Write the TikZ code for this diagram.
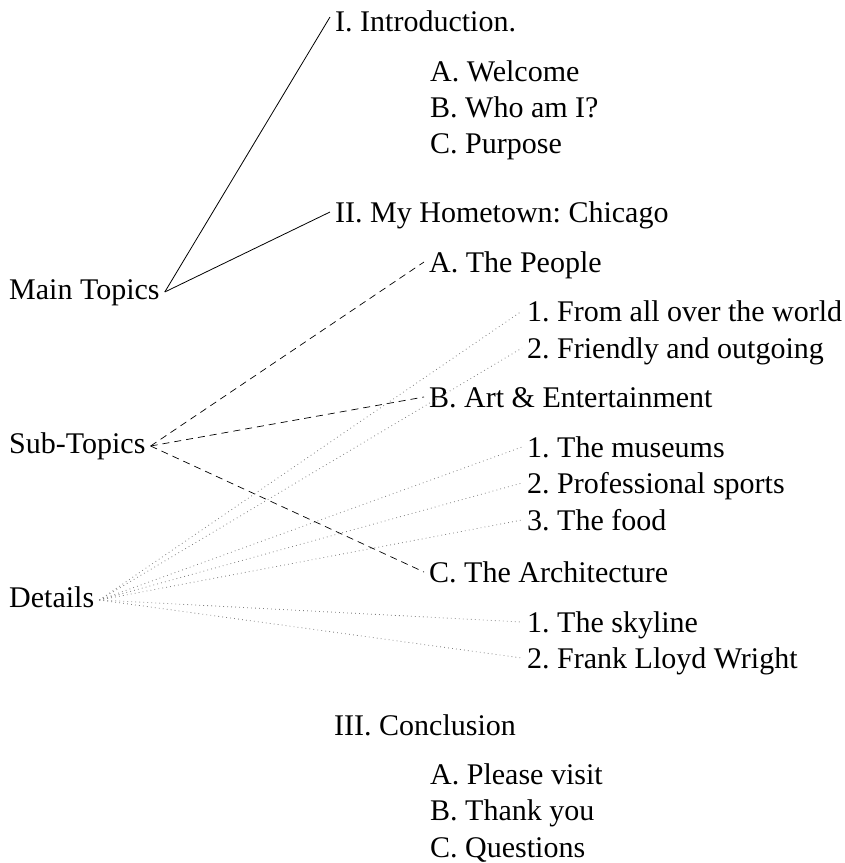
\documentclass[tikz,border=0pt]{standalone}
\usepackage{fontspec}
\setmainfont{Liberation Serif}
\frenchspacing
\tikzset{topic/.style = {font=\fontsize{30}{32}\selectfont, inner sep=5pt,
                         text height=20pt, text depth=6pt, anchor=base west}}
\tikzset{item/.style = {font=\fontsize{30}{32}\selectfont, inner sep=5pt,
                        text height=20pt, text depth=0pt, anchor=base west}}
\tikzset{mainline/.style = {line width=0.8pt}}
\tikzset{subline/.style = {line width=0.7pt, dash pattern=on 7pt off 5pt}}
\tikzset{detailline/.style = {line width=0.8pt, gray, dash pattern=on 0.8pt off 3.2pt}}

\begin{document}
\begin{tikzpicture}[x=1pt, y=-1pt]
      \useasboundingbox (0, 0) rectangle (845, 863);
      % left column
      \node [topic] (main) at (4, 299) {Main Topics};
      \node [topic] (sub) at (4, 453) {Sub-Topics};
      \node [topic] (details) at (4, 607) {Details};
      % outline
      \node [item] (intro) at (330, 31) {I. Introduction.};
      \node [item] (welcome) at (425, 81) {A. Welcome};
      \node [item] (who) at (425, 117) {B. Who am I?};
      \node [item] (purpose) at (425, 153) {C. Purpose};
      \node [item] (hometown) at (330, 222) {II. My Hometown: Chicago};
      \node [item] (people) at (424, 272) {A. The People};
      \node [item] (world) at (522, 321) {1. From all over the world};
      \node [item] (friendly) at (522, 358) {2. Friendly and outgoing};
      \node [item] (art) at (424, 407) {B. Art \& Entertainment};
      \node [item] (museums) at (522, 457) {1. The museums};
      \node [item] (sports) at (522, 493) {2. Professional sports};
      \node [item] (food) at (522, 530) {3. The food};
      \node [item] (arch) at (424, 582) {C. The Architecture};
      \node [item] (skyline) at (522, 632) {1. The skyline};
      \node [item] (wright) at (522, 668) {2. Frank Lloyd Wright};
      \node [item] (concl) at (329, 735) {III. Conclusion};
      \node [item] (visit) at (425, 784) {A. Please visit};
      \node [item] (thanks) at (425, 820) {B. Thank you};
      \node [item] (questions) at (425, 857) {C. Questions};
      % connectors
      \draw [mainline] (main.east) edge ([yshift=4pt]intro.west)
                                   edge (hometown.west);
      \draw [subline] (sub.east) edge (people.west)
                                 edge (art.west)
                                 edge (arch.west);
      \foreach \n in {world, friendly, museums, sports, food, skyline, wright}
        \draw [detailline] (details.east) -- (\n.west);
    \end{tikzpicture}
\end{document}
